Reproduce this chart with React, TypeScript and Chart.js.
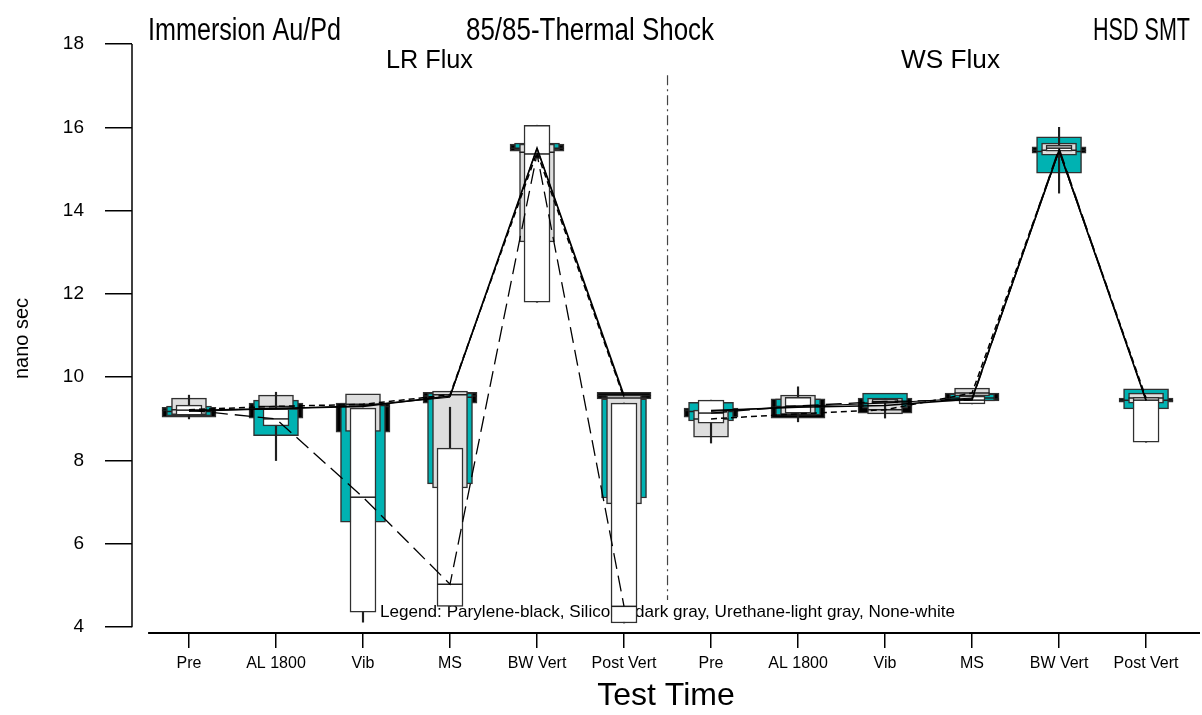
import React, { useEffect, useRef } from 'react';
import { Chart, registerables } from 'chart.js';

Chart.register(...registerables);

// ---------------- DATA ----------------
const categories = ['Pre', 'AL 1800', 'Vib', 'MS', 'BW Vert', 'Post Vert', 'Pre', 'AL 1800', 'Vib', 'MS', 'BW Vert', 'Post Vert'];
const yTickValues = [4, 6, 8, 10, 12, 14, 16, 18];

// Parylene (black)
const parLo = [9.04, 9.02, 8.68, 9.38, 15.43, 9.48, 9.04, 9.02, 9.14, 9.43, 15.38, 9.40];
const parHi = [9.28, 9.38, 9.38, 9.64, 15.6, 9.64, 9.26, 9.48, 9.5, 9.62, 15.53, 9.5];
const parMed = [9.2, 9.25, 9.3, 9.55, 15.5, 9.56, 9.2, 9.28, 9.32, 9.48, 15.45, 9.44];

// Silicone (teal / "dark gray")
const silLo = [9.07, 8.6, 6.52, 7.44, 15.45, 7.1, 8.95, 9.09, 9.26, 9.43, 14.9, 9.24];
const silHi = [9.31, 9.45, 9.38, 9.62, 15.62, 9.48, 9.4, 9.48, 9.62, 9.6, 15.77, 9.72];
const silMed = [9.18, 9.24, 9.32, 9.52, 15.5, 9.52, 9.18, 9.3, 9.38, 9.5, 15.42, 9.45];

// Urethane (light gray)
const ureLo = [9.1, 9.24, 8.7, 7.34, 13.25, 6.96, 8.56, 9.09, 9.12, 9.55, 15.33, 9.38];
const ureHi = [9.5, 9.57, 9.6, 9.67, 15.6, 9.57, 9.21, 9.57, 9.5, 9.74, 15.62, 9.62];
const ureMed = [9.22, 9.3, 9.35, 9.58, 15.4, 9.5, 9.0, 9.12, 9.22, 9.62, 15.45, 9.5];

// None (white)
const nonLo = [9.09, 8.83, 4.36, 4.5, 11.8, 4.1, 8.9, 9.14, 9.38, 9.36, 15.43, 8.44];
const nonHi = [9.33, 9.24, 9.26, 8.3, 16.05, 9.38, 9.45, 9.52, 9.48, 9.55, 15.57, 9.52];
const nonMed = [9.21, 9.0, 7.12, 5.03, 15.36, 4.5, 9.14, 9.31, 9.42, 9.45, 15.5, 9.45];
const nonWhiskLo = [9.0, 8.0, 4.12, 4.5, 11.8, 4.1, 8.42, 8.93, 9.02, 9.36, 14.42, 8.44];
const nonWhiskHi = [9.57, 9.64, 9.26, 9.28, 16.05, 9.38, 9.45, 9.77, 9.48, 9.55, 16.0, 9.52];

const legendText = 'Legend: Parylene-black, Silicone-dark gray, Urethane-light gray, None-white';

// ---------------- STYLE ----------------
const FONT = '"Liberation Sans", Arial, Helvetica, sans-serif';
const TEAL = '#00b2b2';
const LGRAY = '#dedede';
const EDGE = '#303030';

function fitText(ctx: CanvasRenderingContext2D, text: string, x0: number, x1: number, baseline: number, size: number) {
  ctx.save();
  ctx.font = `${size}px ${FONT}`;
  ctx.textAlign = 'left';
  ctx.textBaseline = 'alphabetic';
  const w = ctx.measureText(text).width;
  const sx = (x1 - x0) / w;
  ctx.translate(x0, baseline);
  ctx.scale(sx, 1);
  ctx.fillText(text, 0, 0);
  ctx.restore();
}

export default function App() {
  const ref = useRef<HTMLCanvasElement>(null);

  useEffect(() => {
    const canvas = ref.current;
    if (!canvas) return;

    const pts = (arr: number[]) => arr.map((v, i) => ({ x: i, y: v }));
    const rng = (lo: number[], hi: number[]) => lo.map((v, i) => ({ x: i, y: [v, hi[i]] }));

    const box = (label: string, lo: number[], hi: number[], fill: string, thick: number, order: number) => ({
      type: 'bar',
      label,
      data: rng(lo, hi),
      backgroundColor: fill,
      borderColor: EDGE,
      borderWidth: 1.5,
      borderSkipped: false,
      barThickness: thick,
      grouped: false,
      order,
    });
    const whisker = (label: string, lo: number[], hi: number[], order: number) => ({
      type: 'bar',
      label,
      data: rng(lo, hi),
      backgroundColor: '#202020',
      borderWidth: 0,
      barThickness: 1.5,
      grouped: false,
      order,
    });
    const median = (label: string, med: number[], thick: number, order: number) => ({
      type: 'line',
      label,
      data: pts(med),
      showLine: false,
      pointStyle: 'line',
      pointRadius: thick / 2,
      pointHoverRadius: thick / 2,
      pointBorderColor: '#202020',
      pointBorderWidth: 1.5,
      pointBackgroundColor: 'rgba(0,0,0,0)',
      order,
    });
    const conn = (label: string, med: number[], width: number, dash: number[], order: number) => ({
      type: 'line',
      label,
      data: pts(med),
      borderColor: '#000',
      borderWidth: width,
      borderDash: dash,
      pointRadius: 0,
      fill: false,
      tension: 0,
      order,
      segment: {
        borderColor: (c: any) => (c.p0DataIndex === 5 ? 'rgba(0,0,0,0)' : '#000'),
      },
    });

    const deco = {
      id: 'deco',
      beforeDatasetsDraw(chart: any) {
        const { ctx, scales } = chart;
        const x = scales.x;
        const y = scales.y;
        ctx.save();
        // group divider
        const dx = (x.getPixelForValue(5) + x.getPixelForValue(6)) / 2;
        ctx.strokeStyle = '#444';
        ctx.lineWidth = 1.2;
        ctx.setLineDash([10, 4, 2, 4]);
        ctx.beginPath();
        ctx.moveTo(dx, y.getPixelForValue(17.25));
        ctx.lineTo(dx, y.getPixelForValue(4.65));
        ctx.stroke();
        ctx.setLineDash([]);
        ctx.restore();
        // legend text (behind boxes)
        ctx.save();
        ctx.fillStyle = '#000';
        fitText(ctx, legendText, 380, 955, y.getPixelForValue(4.39) + 6, 17);
        ctx.restore();
      },
      afterDraw(chart: any) {
        const { ctx, scales, chartArea } = chart;
        const x = scales.x;
        const y = scales.y;
        ctx.save();
        ctx.strokeStyle = '#000';
        // y axis line
        ctx.lineWidth = 1.5;
        ctx.beginPath();
        ctx.moveTo(chartArea.left, y.getPixelForValue(18));
        ctx.lineTo(chartArea.left, y.getPixelForValue(4));
        ctx.stroke();
        // x axis line
        ctx.lineWidth = 2;
        ctx.beginPath();
        ctx.moveTo(x.getPixelForValue(-0.47), chartArea.bottom);
        ctx.lineTo(chartArea.right, chartArea.bottom);
        ctx.stroke();
        ctx.restore();
        // titles
        ctx.save();
        ctx.fillStyle = '#000';
        fitText(ctx, 'Immersion Au/Pd', 148, 341, 40, 31);
        fitText(ctx, '85/85-Thermal Shock', 466, 714, 40, 31);
        fitText(ctx, 'HSD SMT', 1093, 1190, 40, 31);
        fitText(ctx, 'LR Flux', 386, 473, 68, 25);
        fitText(ctx, 'WS Flux', 901, 1000, 68, 25);
        ctx.restore();
      },
    };

    const chart = new Chart(canvas, {
      type: 'bar',
      data: {
        datasets: [
          conn('Parylene line', parMed, 1.6, [], 1),
          conn('Silicone line', silMed, 1.0, [], 2),
          conn('Urethane line', ureMed, 1.5, [6, 4], 3),
          conn('None line', nonMed, 1.3, [16, 7], 4),
          median('None median', nonMed, 26, 10),
          box('None', nonLo, nonHi, '#ffffff', 26, 11),
          whisker('None whisker', nonWhiskLo, nonWhiskHi, 12),
          median('Urethane median', ureMed, 35, 13),
          box('Urethane', ureLo, ureHi, LGRAY, 35, 14),
          median('Silicone median', silMed, 45, 15),
          box('Silicone', silLo, silHi, TEAL, 45, 16),
          median('Parylene median', parMed, 54, 17),
          box('Parylene', parLo, parHi, '#000000', 54, 18),
        ] as any,
      },
      plugins: [deco],
      options: {
        animation: false,
        responsive: false,
        events: [],
        layout: { autoPadding: false, padding: { top: 44, right: 2, left: 0, bottom: 0 } },
        plugins: {
          legend: { display: false },
          tooltip: { enabled: false },
          title: { display: false },
        },
        scales: {
          x: {
            type: 'linear',
            min: -0.655,
            max: 11.62,
            offset: false,
            afterBuildTicks: (s: any) => {
              s.ticks = categories.map((_, i) => ({ value: i }));
            },
            afterFit: (s: any) => {
              s.height = 82;
              s.paddingLeft = 0;
              s.paddingRight = 0;
            },
            ticks: {
              autoSkip: false,
              maxRotation: 0,
              padding: 6,
              color: '#000',
              font: { size: 16, family: FONT },
              callback: (v: any) => categories[Math.round(Number(v))] ?? '',
            },
            grid: { display: true, offset: false, drawOnChartArea: false, drawTicks: true, tickLength: 15, color: '#000', lineWidth: 1.5 },
            border: { display: false },
            title: { display: true, text: 'Test Time', color: '#000', font: { size: 32, family: FONT }, padding: { top: 0, bottom: 0 } },
          },
          y: {
            type: 'linear',
            min: 3.86,
            max: 18,
            afterBuildTicks: (s: any) => {
              s.ticks = yTickValues.map((v) => ({ value: v }));
            },
            afterFit: (s: any) => {
              s.width = 132;
            },
            ticks: {
              padding: 21,
              color: '#000',
              font: { size: 19, family: FONT },
            },
            grid: { display: true, drawOnChartArea: false, drawTicks: true, tickLength: 27, color: '#000', lineWidth: 1.5 },
            border: { display: false },
            title: { display: true, text: 'nano sec', color: '#000', font: { size: 20, family: FONT }, padding: { top: 10, bottom: 0 } },
          },
        },
      } as any,
    });

    return () => chart.destroy();
  }, []);

  return (
    <div style={{ position: 'fixed', left: 0, top: 0, width: 1202, height: 715, background: '#fff' }}>
      <canvas ref={ref} width={1202} height={715} style={{ display: 'block' }} />
    </div>
  );
}
